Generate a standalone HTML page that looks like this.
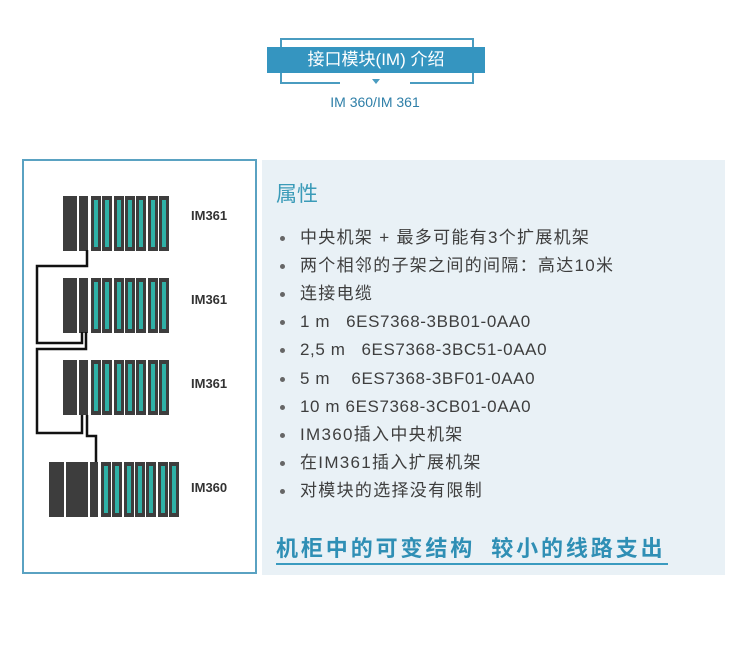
<!DOCTYPE html>
<html><head><meta charset="utf-8"><style>
body{margin:0;width:750px;height:654px;background:#fff;position:relative;overflow:hidden;font-family:"Liberation Sans","Noto Sans CJK SC",sans-serif;}
.a{position:absolute}
.m{position:absolute;background:#3d3d3d}
.t{position:absolute;background:#2fb0a6}
.lab{position:absolute;font-size:13px;font-weight:bold;color:#333}
.b{position:absolute;left:280px;font-size:17px;letter-spacing:1.3px;line-height:20px;height:20px;color:#3e3e3e;white-space:nowrap}
.b.l{letter-spacing:0.6px}
.b:before{content:"";position:absolute;left:0;top:8px;width:5px;height:5px;border-radius:50%;background:#666}
.b span{margin-left:20px}
</style></head><body>
<div class="a" style="left:280px;top:38px;width:190px;height:42px;border:2px solid #4a9cc0;"></div>
<div class="a" style="left:267px;top:47px;width:218px;height:26px;background:#3595c0;color:#fff;font-size:17px;text-align:center;line-height:26px;">接口模块(IM) 介绍</div>
<div class="a" style="left:340px;top:78px;width:70px;height:6px;background:#fff;"></div>
<div class="a" style="left:372px;top:79px;width:0;height:0;border-left:4px solid transparent;border-right:4px solid transparent;border-top:5px solid #4a9cc0;"></div>
<div class="a" style="left:300px;top:94px;width:150px;text-align:center;font-size:14px;color:#2f7fa8;">IM 360/IM 361</div>
<div class="a" style="left:22px;top:159px;width:231px;height:411px;border:2px solid #5aa2c2;"></div>
<div class="a" style="left:262px;top:160px;width:463px;height:415px;background:#e9f1f6;"></div>
<div id="racks"></div>
<svg class="a" style="left:0;top:0" width="260" height="580">
<g fill="none" stroke="#111" stroke-width="2.5">
<polyline points="87,250 87,266 37,266 37,343 82,343 82,332"/>
<polyline points="86,332 86,349 37,349 37,433 82,433 82,415"/>
<polyline points="87,415 87,436 96,436 96,462"/>
</g></svg>
<div class="lab" style="left:191px;top:208px">IM361</div>
<div class="lab" style="left:191px;top:292px">IM361</div>
<div class="lab" style="left:191px;top:376px">IM361</div>
<div class="lab" style="left:191px;top:480px">IM360</div>
<div class="a" style="left:276px;top:178px;font-size:21px;color:#3a9bb8;">属性</div>
<div class="b" style="top:228px"><span>中央机架 + 最多可能有3个扩展机架</span></div>
<div class="b" style="top:256px"><span>两个相邻的子架之间的间隔：高达10米</span></div>
<div class="b" style="top:284px"><span>连接电缆</span></div>
<div class="b l" style="top:312px"><span>1 m&nbsp;&nbsp; 6ES7368-3BB01-0AA0</span></div>
<div class="b l" style="top:340px"><span>2,5 m&nbsp;&nbsp; 6ES7368-3BC51-0AA0</span></div>
<div class="b l" style="top:369px"><span>5 m&nbsp;&nbsp;&nbsp; 6ES7368-3BF01-0AA0</span></div>
<div class="b l" style="top:397px"><span>10 m 6ES7368-3CB01-0AA0</span></div>
<div class="b" style="top:425px"><span>IM360插入中央机架</span></div>
<div class="b" style="top:453px"><span>在IM361插入扩展机架</span></div>
<div class="b" style="top:481px"><span>对模块的选择没有限制</span></div>
<div class="a" style="left:276px;top:531px;font-size:22px;letter-spacing:2.9px;font-weight:bold;color:#2f8fb5;white-space:nowrap;">机柜中的可变结构<span style="display:inline-block;width:16px"></span>较小的线路支出</div>
<div class="a" style="left:276px;top:563px;width:392px;height:2px;background:#3a9bc0;"></div>
<script>
var h='';
function rack(y,pre,x0){
 pre.forEach(function(p){h+='<div class="m" style="left:'+p[0]+'px;top:'+y+'px;width:'+p[1]+'px;height:55px"></div>';});
 for(var i=0;i<7;i++){var x=x0+i*11.3;h+='<div class="m" style="left:'+x+'px;top:'+y+'px;width:10px;height:55px"></div><div class="t" style="left:'+(x+3)+'px;top:'+(y+4)+'px;width:4px;height:47px"></div>';}
}
rack(196,[[63,14],[79,9]],91);
rack(278,[[63,14],[79,9]],91);
rack(360,[[63,14],[79,9]],91);
rack(462,[[49,15],[66,22],[90,8]],101);
document.getElementById('racks').innerHTML=h;
</script>
</body></html>
